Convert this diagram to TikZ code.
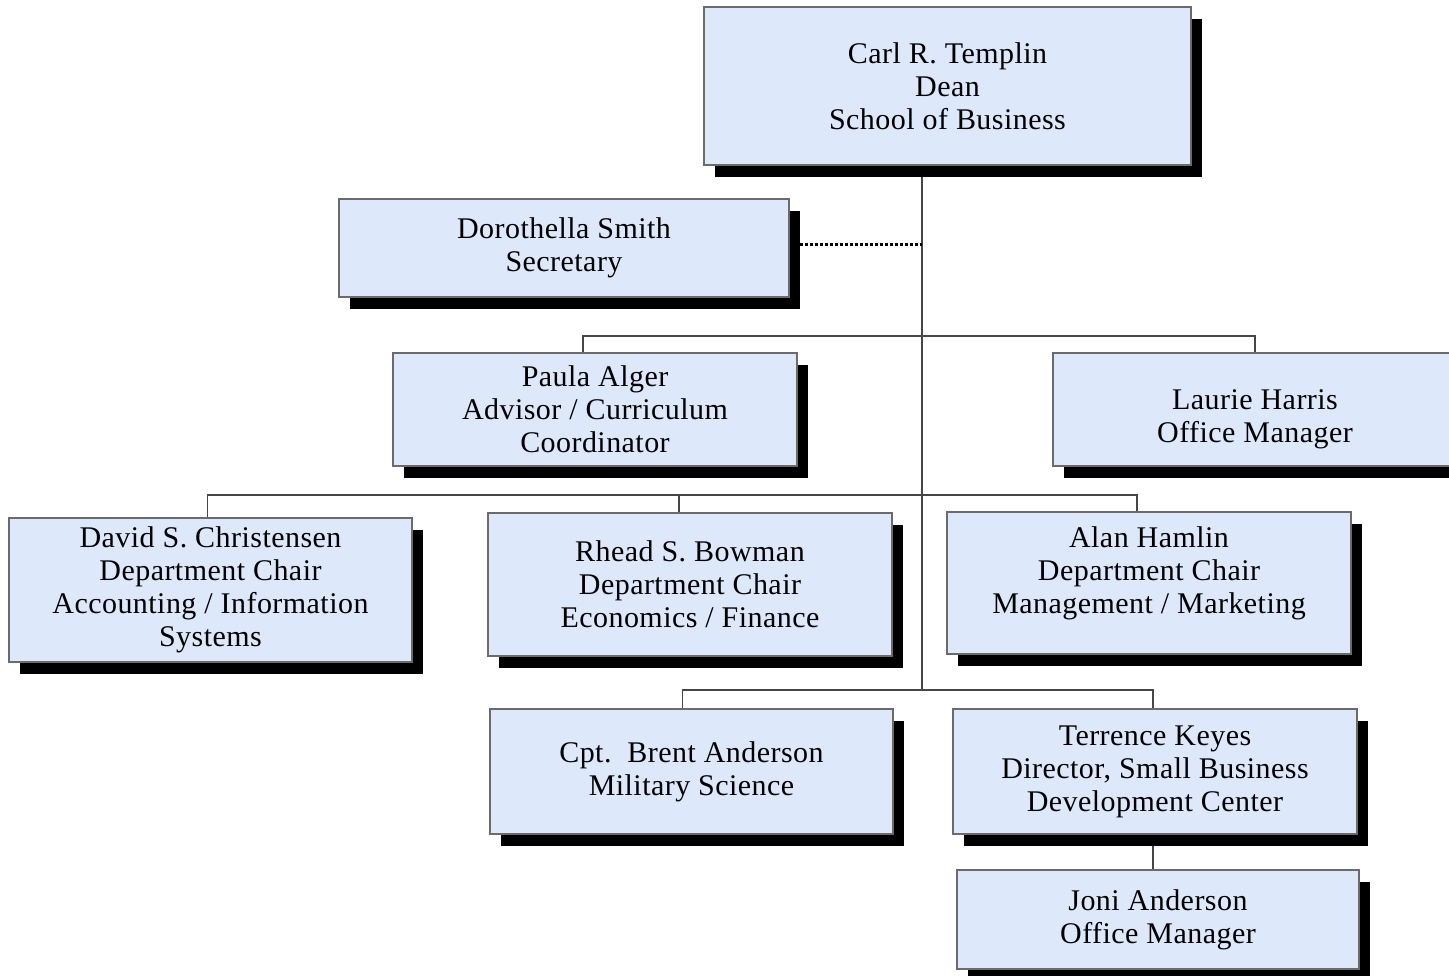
\documentclass[tikz,border=0pt]{standalone}
\usepackage{fontspec}
\setmainfont{Liberation Serif}[LetterSpace=1.5]
\usetikzlibrary{positioning, shadows, backgrounds}
\definecolor{boxblue}{RGB}{221,233,251}
\definecolor{linegray}{RGB}{70,70,70}

\begin{document}
\begin{tikzpicture}[
	x=1pt, y=-1pt,
	box/.style = {draw=linegray!80, line width=1.3pt, fill=boxblue, align=center,
		inner sep=0pt, font=\fontsize{30}{33}\selectfont,
		drop shadow={shadow xshift=11pt, shadow yshift=-12pt, fill=black, opacity=1}},
	link/.style = {draw=linegray, line width=1.2pt},
	staff/.style = {line width=3pt, dash pattern=on 3pt off 2pt}
     ]
		\useasboundingbox (0,0) rectangle (1449,975);
%
		\node[box, minimum width=487pt, minimum height=158pt] (dean) at (947.5,86) {Carl R. Templin\\Dean\\School of Business};
		\node[box, minimum width=450pt, minimum height=98pt] (sec) at (564,248) {Dorothella Smith\\Secretary};
		\node[box, minimum width=404pt, minimum height=113pt] (paula) at (595,409.5) {Paula Alger\\Advisor / Curriculum\\Coordinator};
		\node[box, minimum width=404pt, minimum height=113pt, text height=72pt] (laurie) at (1255,409.5) {Laurie Harris\\Office Manager};
		\node[box, minimum width=403pt, minimum height=144pt] (david) at (210.5,590) {David S. Christensen\\Department Chair\\Accounting / Information\\Systems};
		\node[box, minimum width=404pt, minimum height=143pt] (rhead) at (690,584.5) {Rhead S. Bowman\\Department Chair\\Economics / Finance};
		\node[box, minimum width=404pt, minimum height=142pt, text depth=26pt] (alan) at (1149,583) {Alan Hamlin\\Department Chair\\Management / Marketing};
		\node[box, minimum width=403pt, minimum height=125pt] (cpt) at (691.5,771.5) {Cpt.\ \ Brent Anderson\\Military Science};
		\node[box, minimum width=404pt, minimum height=125pt] (terr) at (1155,771.5) {Terrence Keyes\\Director, Small Business\\Development Center};
		\node[box, minimum width=402pt, minimum height=99pt] (joni) at (1158,919.5) {Joni Anderson\\Office Manager};
%
		\coordinate (trunk) at (922,690);
		\coordinate (bus1) at (922,336);
		\coordinate (bus2) at (922,495);
%
		\begin{scope}[on background layer]
		\draw[link] (dean.south -| trunk) -- (trunk);
		\draw[staff] ([yshift=4pt]sec.east) -- ([yshift=4pt]sec.east -| trunk);
		\draw[link] ([xshift=-12pt]paula.north) |- (laurie.north |- bus1) -- (laurie.north);
		\draw[link] ([xshift=-3pt]david.north) |- ([xshift=-12pt]alan.north |- bus2) -- ([xshift=-12pt]alan.north);
		\draw[link] ([xshift=-11pt]rhead.north) -- ([xshift=-11pt]rhead.north |- bus2);
		\draw[link] ([xshift=-9pt]cpt.north) |- ([xshift=-2pt]terr.north |- trunk) -- ([xshift=-2pt]terr.north);
		\draw[link] ([xshift=-2pt]terr.south) -- ([xshift=-2pt]terr.south |- joni.north);
		\end{scope}
\end{tikzpicture}
\end{document}
